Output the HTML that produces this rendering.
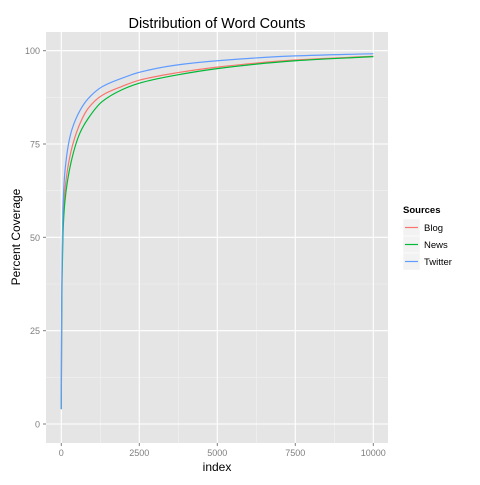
<!DOCTYPE html>
<html><head><meta charset="utf-8"><style>
body{margin:0;background:#fff;}
svg text{font-family:"Liberation Sans",sans-serif;}
</style></head><body>
<svg id="chart" width="480" height="480" xmlns="http://www.w3.org/2000/svg">
<rect width="480" height="480" fill="#fff"/>
<text x="217" y="28" font-size="14.5" text-anchor="middle" fill="#000">Distribution of Word Counts</text>
<rect x="46" y="32" width="342" height="411" fill="#e5e5e5"/>
<g id="grid"></g>
<g id="lines"></g>
<g id="axes"></g>
<text x="217" y="471" font-size="12" text-anchor="middle">index</text>
<text transform="translate(20,237) rotate(-90)" font-size="12" text-anchor="middle">Percent Coverage</text>
<g>
<text x="403" y="213" font-size="9.5" font-weight="bold">Sources</text>
</g>
<g id="legend"></g>
</svg>
<script>
const indexes=[1,10,25,54,120,310,600,866,1300,1935,2500,3645,5000,7500,10000];
const blog=[4,28,42,54,63,73,80.5,84.6,88,90.4,92.1,94,95.6,97.5,98.5];
const news=[4,26,39,51,60,70,78,81.9,86.3,89.5,91.3,93.4,95.2,97.3,98.4];
const twitter=[4,30,45,58,68,78,84,87.2,90.3,92.6,94.2,96.1,97.3,98.6,99.2];
const seriesNames=["Blog","News","Twitter"];
const xTicks=[0,2500,5000,7500,10000];
const yTicks=[0,25,50,75,100];
const colors=["#f8766d","#00ba38","#619cff"];
const NS="http://www.w3.org/2000/svg";
const L=46,R=388,T=32,B=443;
const xs=v=>61.3+(v/10000)*312;
const ys=v=>424-(v/25)*93.33;
function mk(tag,attrs,parent){const e=document.createElementNS(NS,tag);for(const k in attrs)e.setAttribute(k,attrs[k]);parent.appendChild(e);return e;}
const grid=document.getElementById('grid'),axes=document.getElementById('axes'),lines=document.getElementById('lines'),leg=document.getElementById('legend');
for(let i=0;i<xTicks.length-1;i++){const m=(xTicks[i]+xTicks[i+1])/2;const l=mk('line',{x1:xs(m),x2:xs(m),y1:T,y2:B,stroke:'#f2f2f2','stroke-width':0.6},grid);}
for(let i=0;i<yTicks.length-1;i++){const m=(yTicks[i]+yTicks[i+1])/2;const l=mk('line',{x1:L,x2:R,y1:ys(m),y2:ys(m),stroke:'#f2f2f2','stroke-width':0.6},grid);}
xTicks.forEach(t=>{const l=mk('line',{x1:xs(t),x2:xs(t),y1:T,y2:B,stroke:'#fff','stroke-width':1.1},grid);
const k=mk('line',{x1:xs(t),x2:xs(t),y1:B,y2:B+3,stroke:'#7f7f7f'},axes);
const tx=mk('text',{x:xs(t),y:B+13,'font-size':9,'text-anchor':'middle',fill:'#7f7f7f'},axes);tx.textContent=t;});
yTicks.forEach(t=>{const l=mk('line',{x1:L,x2:R,y1:ys(t),y2:ys(t),stroke:'#fff','stroke-width':1.1},grid);
const k=mk('line',{x1:L-3,x2:L,y1:ys(t),y2:ys(t),stroke:'#7f7f7f'},axes);
const tx=mk('text',{x:L-6,y:ys(t)+3.5,'font-size':9,'text-anchor':'end',fill:'#7f7f7f'},axes);tx.textContent=t;});
function monoPath(pts){
 const n=pts.length,dx=[],sl=[],m=[];
 for(let i=0;i<n-1;i++){dx[i]=pts[i+1][0]-pts[i][0];sl[i]=(pts[i+1][1]-pts[i][1])/(dx[i]||1e-6);}
 m[0]=sl[0];m[n-1]=sl[n-2];
 for(let i=1;i<n-1;i++){if(sl[i-1]*sl[i]<=0)m[i]=0;else{const w1=2*dx[i]+dx[i-1],w2=dx[i]+2*dx[i-1];m[i]=(w1+w2)/(w1/sl[i-1]+w2/sl[i]);}}
 let d='M'+pts[0][0]+','+pts[0][1];
 for(let i=0;i<n-1;i++){const h=dx[i]/3;d+=' C'+(pts[i][0]+h)+','+(pts[i][1]+m[i]*h)+' '+(pts[i+1][0]-h)+','+(pts[i+1][1]-m[i+1]*h)+' '+pts[i+1][0]+','+pts[i+1][1];}
 return d;}
[blog,news,twitter].forEach((s,si)=>{
 const pts=indexes.map((x,i)=>[xs(x),ys(s[i])]);
 const p=mk('path',{d:monoPath(pts),fill:'none',stroke:colors[si],'stroke-width':1.2},lines);
 
 
 const y0=219+si*17;
 const r=mk('rect',{x:403,y:y0,width:17,height:17,fill:'#f2f2f2',stroke:'#fff','stroke-width':0.5},leg);
 
 
 const ln=mk('line',{x1:405,x2:418,y1:y0+8.5,y2:y0+8.5,stroke:colors[si],'stroke-width':1.2},leg);
 
 
 const t=mk('text',{x:424,y:y0+12,'font-size':9.5},leg);t.textContent=seriesNames[si];
 
 
});
</script>
</body></html>
